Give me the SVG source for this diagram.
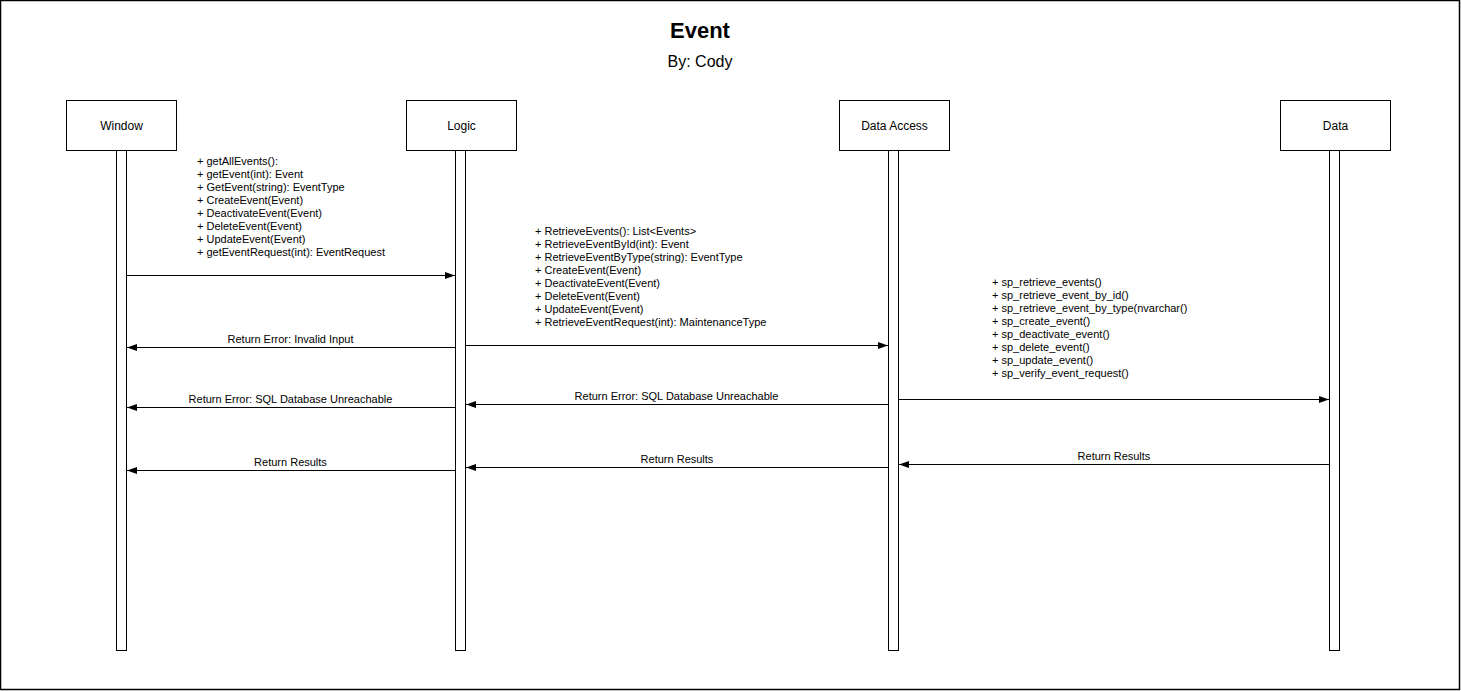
<svg xmlns="http://www.w3.org/2000/svg" width="1461" height="691" viewBox="0 0 1461 691">
<style>
text{font-family:"Liberation Sans",Arial,sans-serif;fill:#000}
.lbl{font-size:11px}
.mid{text-anchor:middle}
.box{fill:#fff;stroke:#000;stroke-width:1}
.life{fill:#fff;stroke:#000;stroke-width:1}
.msg{stroke:#000;stroke-width:1;fill:none;marker-end:url(#ah)}
</style>
<defs>
<marker id="ah" markerUnits="userSpaceOnUse" markerWidth="10" markerHeight="8" refX="10" refY="4" orient="auto">
<path d="M0,0.5 L10,4 L0,7.5 z" fill="#000"/>
</marker>
</defs>
<rect x="0.5" y="0.5" width="1459" height="689" fill="#fff" stroke="#000" stroke-width="1.5"/>
<text x="700" y="38" class="mid" font-size="22" font-weight="bold">Event</text>
<text x="700" y="67" class="mid" font-size="16">By: Cody</text>

<g id="window">
<rect class="box" x="66.5" y="100.5" width="110" height="50"/>
<text x="121.5" y="130" class="mid" font-size="12">Window</text>
<rect class="life" x="116.5" y="150.5" width="10" height="500"/>
</g>
<g id="logic">
<rect class="box" x="406.5" y="100.5" width="110" height="50"/>
<text x="461.5" y="130" class="mid" font-size="12">Logic</text>
<rect class="life" x="455.5" y="150.5" width="10" height="500"/>
</g>
<g id="dataaccess">
<rect class="box" x="839.5" y="100.5" width="110" height="50"/>
<text x="894.5" y="130" class="mid" font-size="12">Data Access</text>
<rect class="life" x="888.5" y="150.5" width="10" height="500"/>
</g>
<g id="data">
<rect class="box" x="1280.5" y="100.5" width="110" height="50"/>
<text x="1335.5" y="130" class="mid" font-size="12">Data</text>
<rect class="life" x="1329.5" y="150.5" width="10" height="500"/>
</g>

<g id="connectors">
<line class="msg" x1="127" y1="275.5" x2="455" y2="275.5"/>
<line class="msg" x1="455" y1="347.5" x2="127" y2="347.5"/>
<line class="msg" x1="466" y1="345.5" x2="888" y2="345.5"/>
<line class="msg" x1="888" y1="404.5" x2="466" y2="404.5"/>
<line class="msg" x1="455" y1="407.5" x2="127" y2="407.5"/>
<line class="msg" x1="899" y1="399.5" x2="1329" y2="399.5"/>
<line class="msg" x1="1329" y1="464.5" x2="899" y2="464.5"/>
<line class="msg" x1="888" y1="467.5" x2="466" y2="467.5"/>
<line class="msg" x1="455" y1="470.5" x2="127" y2="470.5"/>

<g class="lbl">
<text x="197" y="165">+ getAllEvents():</text>
<text x="197" y="178">+ getEvent(int): Event</text>
<text x="197" y="191">+ GetEvent(string): EventType</text>
<text x="197" y="204">+ CreateEvent(Event)</text>
<text x="197" y="217">+ DeactivateEvent(Event)</text>
<text x="197" y="230">+ DeleteEvent(Event)</text>
<text x="197" y="243">+ UpdateEvent(Event)</text>
<text x="197" y="256">+ getEventRequest(int): EventRequest</text>

<text x="535" y="235">+ RetrieveEvents(): List&lt;Events&gt;</text>
<text x="535" y="248">+ RetrieveEventById(int): Event</text>
<text x="535" y="261">+ RetrieveEventByType(string): EventType</text>
<text x="535" y="274">+ CreateEvent(Event)</text>
<text x="535" y="287">+ DeactivateEvent(Event)</text>
<text x="535" y="300">+ DeleteEvent(Event)</text>
<text x="535" y="313">+ UpdateEvent(Event)</text>
<text x="535" y="326">+ RetrieveEventRequest(int): MaintenanceType</text>

<text x="992" y="286">+ sp_retrieve_events()</text>
<text x="992" y="299">+ sp_retrieve_event_by_id()</text>
<text x="992" y="312">+ sp_retrieve_event_by_type(nvarchar()</text>
<text x="992" y="325">+ sp_create_event()</text>
<text x="992" y="338">+ sp_deactivate_event()</text>
<text x="992" y="351">+ sp_delete_event()</text>
<text x="992" y="364">+ sp_update_event()</text>
<text x="992" y="377">+ sp_verify_event_request()</text>

<text x="290.5" y="343" class="mid">Return Error: Invalid Input</text>
<text x="290.5" y="403" class="mid">Return Error: SQL Database Unreachable</text>
<text x="676.5" y="400" class="mid">Return Error: SQL Database Unreachable</text>
<text x="290.5" y="466" class="mid">Return Results</text>
<text x="677" y="463" class="mid">Return Results</text>
<text x="1114" y="460" class="mid">Return Results</text>
</g>
</g>
</svg>
